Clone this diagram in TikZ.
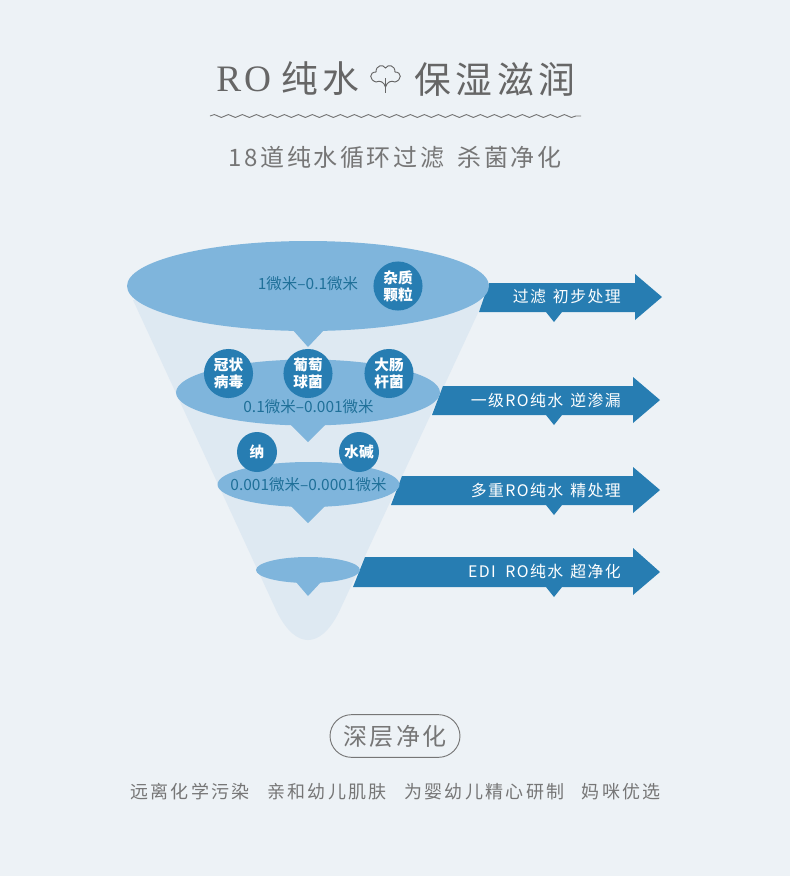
\documentclass[tikz,border=0pt]{standalone}
\usepackage{fontspec}
\usepackage{xcolor}
\usetikzlibrary{decorations.pathmorphing}
\newfontfamily\cjk{Noto Sans CJK SC}
\newfontfamily\latinserif{Liberation Serif}
\definecolor{pagebg}{HTML}{EDF2F6}
\definecolor{funnelpale}{HTML}{DEE9F2}
\definecolor{funnelblue}{HTML}{7FB5DC}
\definecolor{arrowblue}{HTML}{277DB2}
\definecolor{sizeblue}{HTML}{1F7099}
\definecolor{titlegray}{HTML}{666666}
\definecolor{textgray}{HTML}{767676}
\tikzset{
	bugdot/.style={circle, fill=arrowblue, inner sep=0pt, text=white, align=center,
		font=\cjk\fontsize{11}{12.8}\selectfont\bfseries},
	sizelabel/.style={text=sizeblue, inner sep=0pt, font=\cjk\fontsize{11.6}{14}\selectfont},
	arrowlabel/.style={text=white, anchor=east, inner sep=0pt,
		font=\cjk\fontsize{11.9}{14}\selectfont\addfontfeature{LetterSpace=9}},
	graytext/.style={text=textgray, inner sep=0pt},
}
\begin{document}
\begin{tikzpicture}[x=0.75pt,y=-0.75pt]
	\fill[pagebg] (0,0) rectangle (790,876);
	% heading
	\node[inner sep=0pt, text=titlegray, anchor=west, font=\latinserif\fontsize{28}{30}\selectfont\addfontfeature{LetterSpace=8}] (titlero) at (216,79) {RO};
	\node[inner sep=0pt, text=titlegray, anchor=west, font=\cjk\fontsize{27.6}{30}\selectfont\addfontfeature{LetterSpace=12.5}] (titlewater) at (281,79) {纯水};
	\node[inner sep=0pt, text=titlegray, anchor=west, font=\cjk\fontsize{27.6}{30}\selectfont\addfontfeature{LetterSpace=12.5}] (titlecare) at (414,79) {保湿滋润};
	\begin{scope}[titlegray, line width=0.7pt]
		\draw (376,82) .. controls (369,80) and (369,72) .. (376,72) .. controls (376,65) and (383,64) .. (385.5,68) .. controls (388,64) and (395,65) .. (395,72) .. controls (402,72) and (402,80) .. (395,82);
		\draw (376,82) .. controls (380,80) and (384,82) .. (385.5,87);
		\draw (395,82) .. controls (391,80) and (387,82) .. (385.5,87);
		\draw (385.5,78) -- (385.5,93);
	\end{scope}
	\coordinate (waveleft) at (210,116);
	\coordinate (waveright) at (581,116);
	\draw[textgray, line width=0.7pt, decorate, decoration={snake, segment length=10.5pt, amplitude=1.1pt}] (waveleft) -- (waveright);
	\node[graytext, font=\cjk\fontsize{18}{20}\selectfont\addfontfeature{LetterSpace=11}] (subtitle) at (395,157) {18道纯水循环过滤\hspace{4pt} 杀菌净化};
	% funnel body
	\fill[funnelpale] (133,300) -- (277,612) .. controls (287,632) and (298,640) .. (308,640) .. controls (318,640) and (329,632) .. (339,612) -- (484,300) -- cycle;
	% arrows
	\fill[arrowblue] (489,283) -- (635,283) -- (635,274) -- (662,297) -- (635,320) -- (635,312) -- (562,312) -- (554,322) -- (546,312) -- (479,312) -- cycle;
	\fill[arrowblue] (443,386) -- (633,386) -- (633,377) -- (660,400) -- (633,423) -- (633,415) -- (562,415) -- (554,425) -- (546,415) -- (432,415) -- cycle;
	\fill[arrowblue] (402,476) -- (633,476) -- (633,467) -- (660,490) -- (633,513) -- (633,505) -- (562,505) -- (554,515) -- (546,505) -- (391,505) -- cycle;
	\fill[arrowblue] (365,557) -- (633,557) -- (633,548) -- (660,572) -- (633,595) -- (633,587) -- (562,587) -- (554,597) -- (546,587) -- (353,587) -- cycle;
	% filter layers
	\fill[funnelblue] (308,286) ellipse [x radius=181, y radius=45];
	\fill[funnelblue] (292,329) -- (308,347) -- (325,329) -- cycle;
	\fill[funnelblue] (308,392.5) ellipse [x radius=132, y radius=33];
	\fill[funnelblue] (290,424) -- (308,442) -- (326,424) -- cycle;
	\fill[funnelblue] (308.5,484.5) ellipse [x radius=91, y radius=22.5];
	\fill[funnelblue] (291,506) -- (308,523) -- (325,506) -- cycle;
	\fill[funnelblue] (308,570) ellipse [x radius=52, y radius=13];
	\fill[funnelblue] (296,582) -- (308,596) -- (321,582) -- cycle;
	% particles
	\foreach \px/\py/\pname/\ptext in {398/286/grain/{杂质\\颗粒}, 228.5/373.5/virus/{冠状\\病毒}, 308/373.5/staph/{葡萄\\球菌}, 389/373.5/coli/{大肠\\杆菌}}{
		\node[bugdot, minimum size=36.8pt] (\pname) at (\px,\py) {\ptext};
	}
	\node[bugdot, minimum size=30pt] (sodium) at (257,452) {纳};
	\node[bugdot, minimum size=30pt] (alkali) at (359,452) {水碱};
	% labels
	\node[sizelabel] (sizea) at (308,284) {1微米–0.1微米};
	\node[sizelabel] (sizeb) at (308.5,407) {0.1微米–0.001微米};
	\node[sizelabel] (sizec) at (308.5,485) {0.001微米–0.0001微米};
	\node[arrowlabel] (stepa) at (621,297) {过滤\hspace{1.5pt} 初步处理};
	\node[arrowlabel] (stepb) at (621,400) {一级RO纯水\hspace{1.5pt} 逆渗漏};
	\node[arrowlabel] (stepc) at (621,490) {多重RO纯水\hspace{1.5pt} 精处理};
	\node[arrowlabel] (stepd) at (621,571) {EDI\hspace{3.5pt} RO纯水\hspace{1.5pt} 超净化};
	% footer
	\node[draw=textgray, line width=0.7pt, rounded corners=21.5*0.75pt, minimum width=97.5pt, minimum height=32pt, inner sep=0pt, text=textgray, font=\cjk\fontsize{18}{20}\selectfont\addfontfeature{LetterSpace=9}] (badge) at (395,736) {深层净化};
	\node[graytext, font=\cjk\fontsize{13.5}{16}\selectfont\addfontfeature{LetterSpace=13}] (slogan) at (395.5,792) {远离化学污染\hspace{13pt}亲和幼儿肌肤\hspace{13pt}为婴幼儿精心研制\hspace{13pt}妈咪优选};
\end{tikzpicture}
\end{document}
